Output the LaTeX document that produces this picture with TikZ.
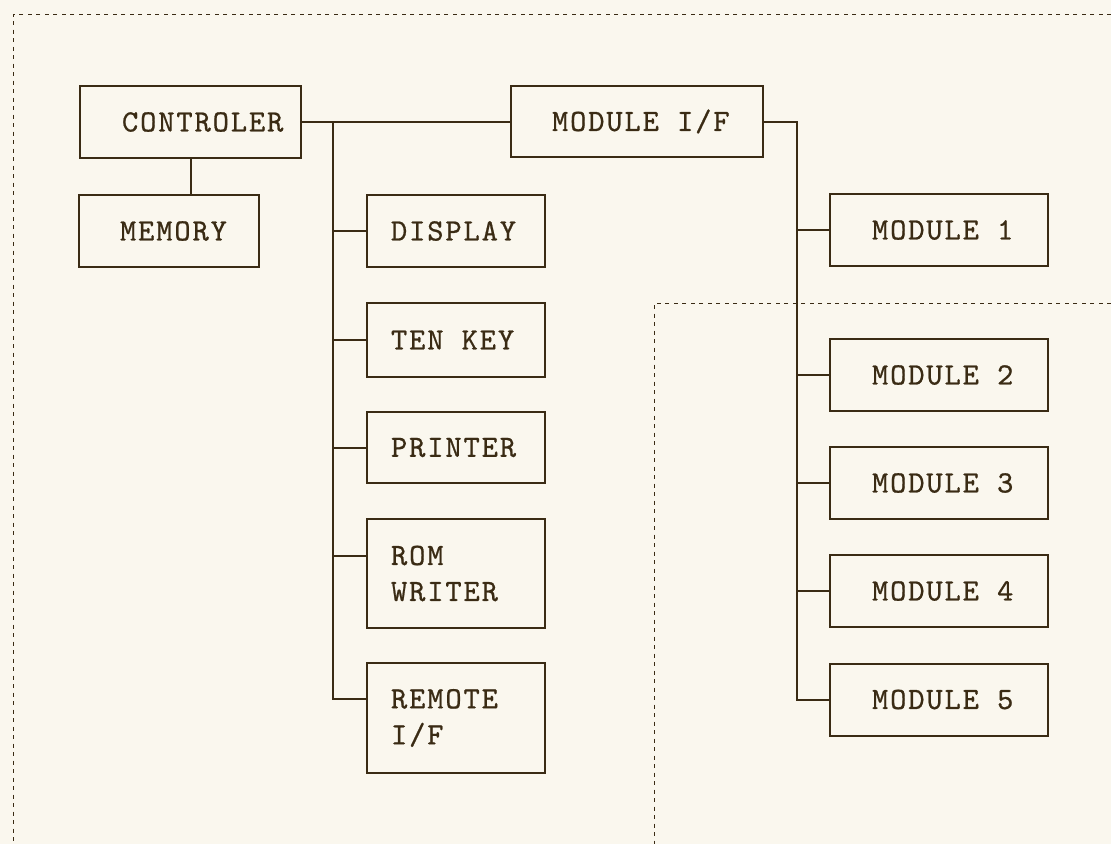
\documentclass[tikz,border=0pt]{standalone}
\usepackage{fontspec}
\definecolor{paper}{HTML}{FAF7EE}
\definecolor{ink}{HTML}{3A2B14}
\newfontfamily\twfont{lmmono10-regular.otf}[LetterSpace=6,FakeBold=0.7]
\newcommand\boxfont{\twfont\fontsize{31}{36}\selectfont}
\newcommand\lbl[3]{\parbox{#1}{\leftskip=#2\relax\parindent=0pt #3}}
\begin{document}
\begin{tikzpicture}[x=1pt,y=-1pt,
  box/.style={draw=ink, line width=2pt, inner xsep=0pt, inner ysep=0pt, text=ink, font=\boxfont},
  wire/.style={draw=ink, line width=2pt},
  crop/.style={draw=ink, line width=1pt, dash pattern=on 4pt off 4.5pt}]
\fill[paper] (0,0) rectangle (1111,844);
\useasboundingbox (0,0) rectangle (1111,844);

% crop / paste-up marks
\coordinate (tl) at (13,14);
\coordinate (lc) at (654,303);
\draw[crop] (1111,14) -- (tl) -- (13,844);
\draw[crop] (1111,303) -- (lc) -- (654,844);

% boxes
\node[box, minimum height=72pt] (ctrl) at (190.5,122) {\lbl{221pt}{42pt}{CONTROLER}};
\node[box, minimum height=72pt] (mem) at (169,231) {\lbl{180pt}{41pt}{MEMORY}};
\node[box, minimum height=71pt] (modif) at (637,121.5) {\lbl{252pt}{41pt}{MODULE I/F}};

\node[box, minimum height=72pt] (disp) at (456,231) {\lbl{178pt}{24pt}{DISPLAY}};
\node[box, minimum height=74pt] (tenkey) at (456,340) {\lbl{178pt}{24pt}{TEN KEY}};
\node[box, minimum height=71pt] (printer) at (456,447.5) {\lbl{178pt}{24pt}{PRINTER}};
\node[box, minimum height=109pt] (rom) at (456,573.5) {\lbl{178pt}{24pt}{ROM\par WRITER}};
\node[box, minimum height=110pt] (remote) at (456,718) {\lbl{178pt}{24pt}{REMOTE\par I/F}};

\node[box, minimum height=72pt] (m1) at (939,230) {\lbl{218pt}{42pt}{MODULE 1}};
\node[box, minimum height=72pt] (m2) at (939,375) {\lbl{218pt}{42pt}{MODULE 2}};
\node[box, minimum height=72pt] (m3) at (939,483) {\lbl{218pt}{42pt}{MODULE 3}};
\node[box, minimum height=72pt] (m4) at (939,591) {\lbl{218pt}{42pt}{MODULE 4}};
\node[box, minimum height=72pt] (m5) at (939,699.5) {\lbl{218pt}{42pt}{MODULE 5}};

% controller side
\draw[wire] (ctrl.east) -- (ctrl.east -| modif.west);
\draw[wire] (ctrl.south) -- (ctrl.south |- mem.north);
\coordinate (bA) at (333,122);
\coordinate (bZ) at (333,699);
\coordinate (romc) at (333,556);
\draw[wire] (bA) -- (bZ) -- (bZ -| remote.west);
\draw[wire] (disp.west) -- (disp.west -| bA);
\draw[wire] (tenkey.west) -- (tenkey.west -| bA);
\draw[wire] (printer.west) -- (printer.west -| bA);
\draw[wire] (romc) -- (romc -| rom.west);

% module side
\coordinate (mA) at (797,121.5);
\coordinate (mZ) at (797,699.5);
\draw[wire] (modif.east) -- (mA) -- (mZ) -- (m5.west);
\draw[wire] (m1.west) -- (m1.west -| mA);
\draw[wire] (m2.west) -- (m2.west -| mA);
\draw[wire] (m3.west) -- (m3.west -| mA);
\draw[wire] (m4.west) -- (m4.west -| mA);
\end{tikzpicture}
\end{document}
